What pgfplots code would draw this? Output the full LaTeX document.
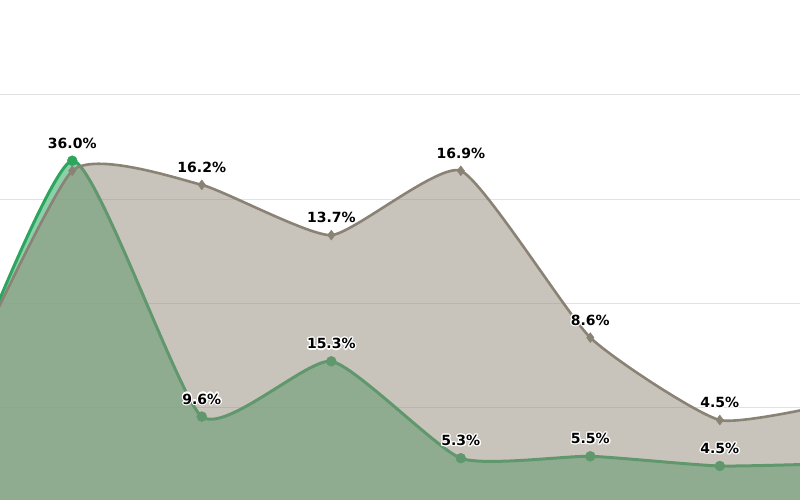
\documentclass[border=0pt]{standalone}
\usepackage{fontspec}
\setmainfont{DejaVu Sans}
\usepackage{pgfplots}
\pgfplotsset{compat=1.18}
\usepackage{contour}
\contourlength{1.2pt}
\definecolor{gline}{RGB}{45,165,95}
\definecolor{gfill}{RGB}{111,196,149}
\definecolor{rfill}{RGB}{147,139,122}
\definecolor{rline}{RGB}{138,130,116}
\definecolor{gridc}{RGB}{225,225,225}

\pgfplotstableread{
x v
-1 7.2
0 36.0
1 9.6
2 15.3
3 5.3
4 5.5
5 4.5
6 4.8
}\greentab
\pgfplotstableread{
x v
0 36.0
1 9.6
2 15.3
3 5.3
4 5.5
5 4.5
}\greenpts
\pgfplotstableread{
x v
-1 4.2
0 16.9
1 16.2
2 13.7
3 16.9
4 8.6
5 4.5
6 5.5
}\greytab
\pgfplotstableread{
x v
0 16.9
1 16.2
2 13.7
3 16.9
4 8.6
5 4.5
}\greypts
\pgfplotstableread{
x v
1 16.2
2 13.7
3 16.9
4 8.6
5 4.5
}\greylabs

\pgfplotsset{
 base/.style={at={(0pt,0pt)}, anchor=south west, scale only axis,
   width=800pt, height=500pt, xmin=-0.558, xmax=5.619,
   axis line style={draw=none}, xtick=\empty, ytick=\empty,
   major tick length=0pt, clip=true,
   /pgf/number format/assume math mode=true},
 lab/.style={draw=none, mark=none,
   nodes near coords={\contour{white}{\pgfmathprintnumber[fixed,fixed zerofill,precision=1]{\pgfplotspointmeta}\%}},
   every node near coord/.append style={anchor=center, yshift=17pt,
     font=\bfseries\fontsize{14}{14}\selectfont, text=black}},
 gy/.style={ymin=0.99, ymax=52.59},
 ry/.style={ymin=0.522, ymax=25.398},
}

\begin{document}
\begin{tikzpicture}
\begin{axis}[base, gy, ytick={10.49,21.22,31.95,42.86}, yticklabels={},
  ymajorgrids, grid style={gridc, line width=1pt}]
\addplot[smooth, tension=0.32, draw=none, fill=gfill, fill opacity=0.8]
  table[x=x,y=v]{\greentab} \closedcycle;
\addplot[smooth, tension=0.32, color=gline, line width=3pt]
  table[x=x,y=v]{\greentab};
\addplot[only marks, mark=*, mark size=5pt, color=gline, mark options={fill=gline}]
  table[x=x,y=v]{\greenpts};
\end{axis}
\begin{axis}[base, ry]
\addplot[smooth, tension=0.3, draw=none, fill=rfill, fill opacity=0.51]
  table[x=x,y=v]{\greytab} \closedcycle;
\addplot[smooth, tension=0.3, color=rline, line width=2.6pt]
  table[x=x,y=v]{\greytab};
\addplot[only marks, mark=diamond*, mark size=5pt, color=rline, mark options={fill=rline}]
  table[x=x,y=v]{\greypts};
\addplot[lab] table[x=x,y=v]{\greylabs};
\end{axis}
\begin{axis}[base, gy]
\addplot[lab] table[x=x,y=v]{\greenpts};
\end{axis}
\pgfresetboundingbox
\path (0pt,0pt) rectangle (800pt,500pt);
\end{tikzpicture}
\end{document}
